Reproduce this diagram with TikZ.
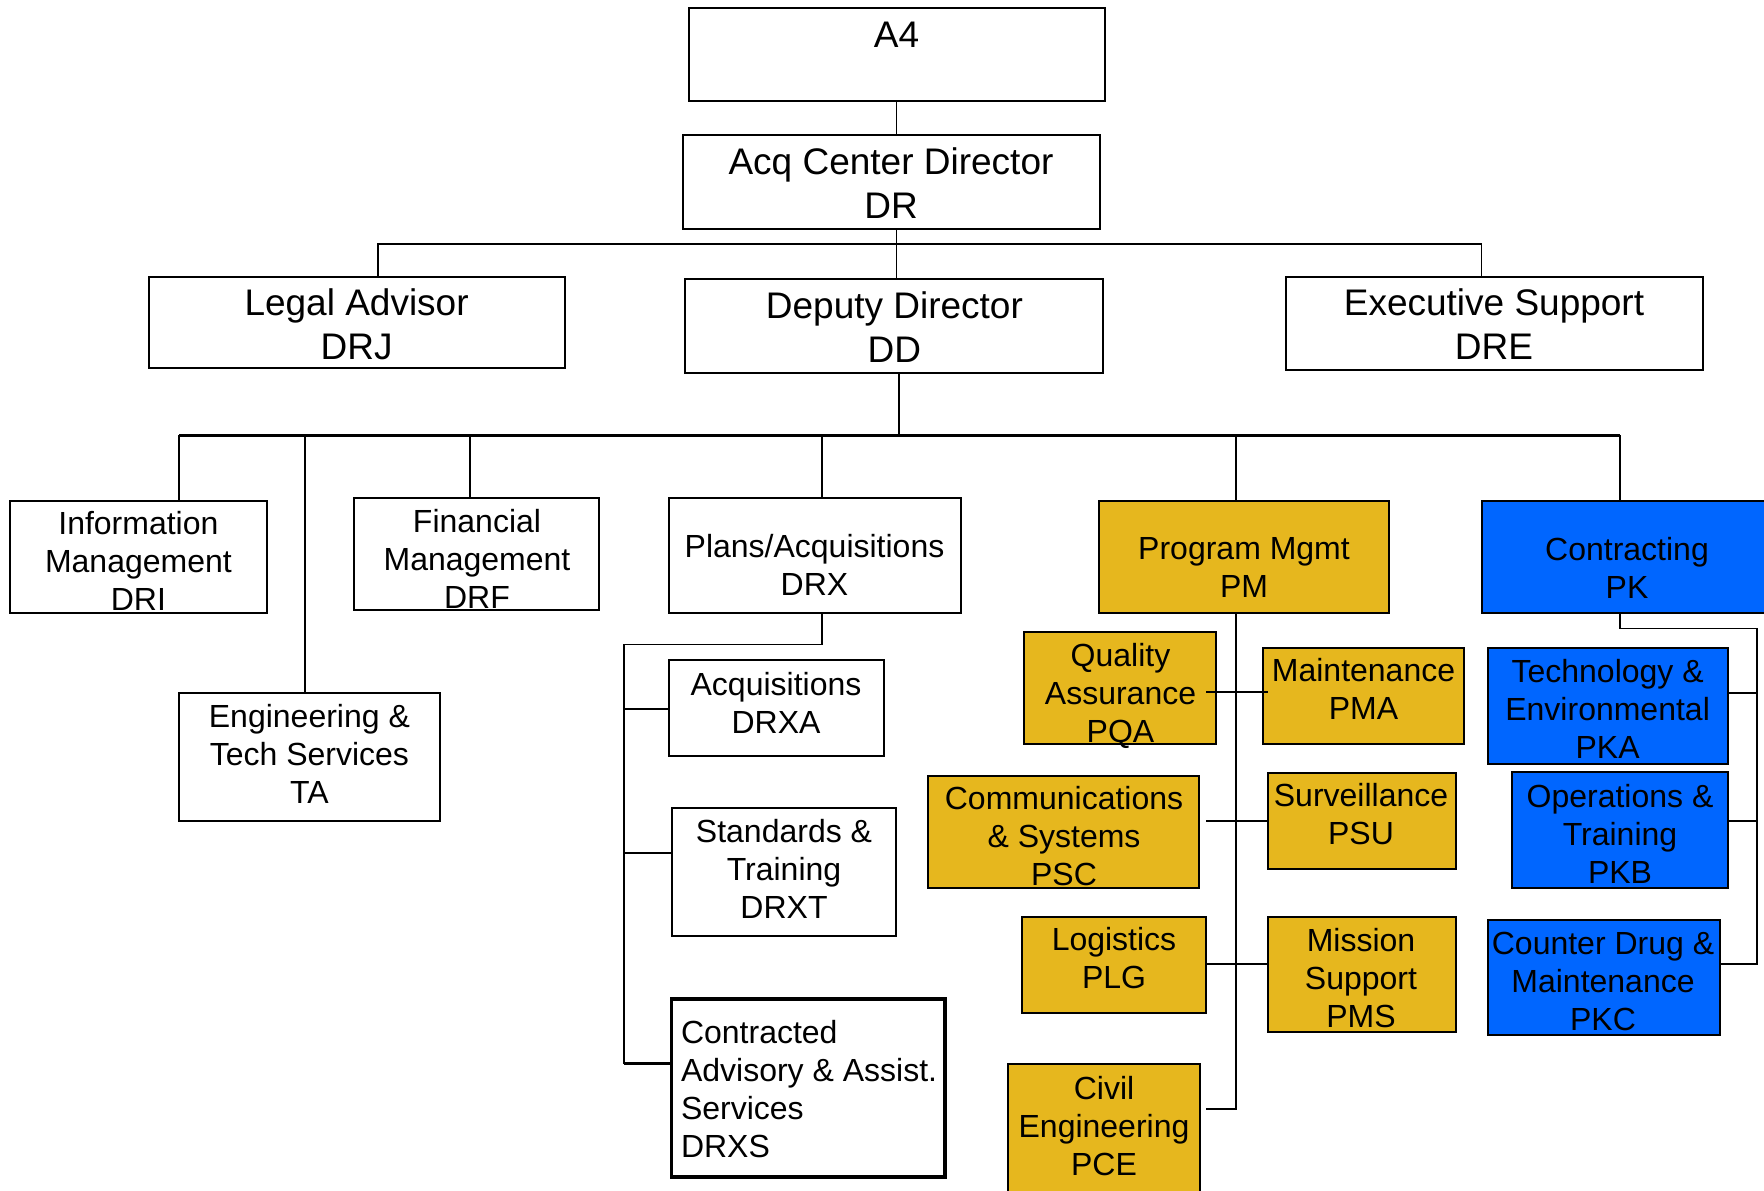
\documentclass[tikz,border=0pt]{standalone}
\usepackage{fontspec}
\setmainfont{Liberation Sans}
\definecolor{gold}{RGB}{230,183,30}
\definecolor{pkblue}{RGB}{0,102,255}
\tikzset{
 box/.style={draw=black, line width=1pt, inner sep=0pt, outer sep=0pt, fill=white},
 goldbox/.style={box, fill=gold},
 bluebox/.style={box, fill=pkblue},
 thickbox/.style={box, line width=1.8pt},
 bigtxt/.style={font=\fontsize{18.5}{22}\selectfont, align=center, inner sep=0pt, yshift=-1.5pt, execute at begin node={\strut}, execute at end node={\strut}},
 txt/.style={font=\fontsize{16}{19}\selectfont, align=center, inner sep=0pt, yshift=-1.5pt, execute at begin node={\strut}, execute at end node={\strut}},
 ltxt/.style={font=\fontsize{16}{19}\selectfont, align=left, inner sep=0pt, anchor=west, yshift=-1.5pt, execute at begin node={\strut}, execute at end node={\strut}},
 conn/.style={line width=0.8pt},
 busline/.style={line width=1.5pt},
 thickconn/.style={line width=1.8pt},
}
\newcommand\obox[6]{\node[#1, minimum width={(#5-#3)*0.5pt}, minimum height={(#6-#4)*0.5pt}] (#2) at ({(#3+#5)/2},{(#4+#6)/2}) {};}
\begin{document}
\begin{tikzpicture}[x=0.5pt, y=-0.5pt]
\useasboundingbox (0,0) rectangle (1764,1190);
\clip (0,0) rectangle (1764,1190);
\fill[white] (0,0) rectangle (1764,1190);

% boxes
\obox{box}{a4}{688.5}{8}{1104.75}{101}
\obox{box}{dr}{683}{135}{1100}{228.5}
\obox{box}{drj}{148.5}{277}{564.75}{368}
\obox{box}{dd}{685}{279}{1102.5}{372.5}
\obox{box}{dre}{1286}{277}{1703}{370}
\obox{box}{dri}{10}{500.6}{266.6}{613}
\obox{box}{ta}{179}{693}{440}{821}
\obox{box}{drf}{354}{498}{598.5}{610}
\obox{box}{drx}{669}{498}{961}{613}
\obox{goldbox}{pm}{1099}{500.6}{1389}{613}
\obox{bluebox}{pk}{1481.6}{500.6}{1775}{613}
\obox{box}{drxa}{669}{660}{884}{756}
\obox{box}{drxt}{671.6}{808}{895.5}{936}
\obox{thickbox}{drxs}{671.6}{999}{945}{1177}
\obox{goldbox}{pqa}{1024}{632}{1216}{744}
\obox{goldbox}{pma}{1263}{648}{1464}{744}
\obox{goldbox}{psc}{928}{776}{1199}{888}
\obox{goldbox}{psu}{1268}{773}{1456}{868.5}
\obox{goldbox}{plg}{1021.5}{917}{1206}{1012.5}
\obox{goldbox}{pms}{1268}{917}{1456}{1032}
\obox{goldbox}{pce}{1008}{1064}{1200}{1200}
\obox{bluebox}{pka}{1488}{648}{1728}{764}
\obox{bluebox}{pkb}{1512}{772}{1728}{888}
\obox{bluebox}{pkc}{1488}{920}{1720}{1035}

% coordinates
\coordinate (b1) at (896.6,244);
\coordinate (bL) at (378,244);
\coordinate (bR) at (1481.6,244);
\coordinate (b2) at (899,435);
\coordinate (b2L) at (179,435);
\coordinate (b2R) at (1620,435);
\coordinate (xTA) at (305,435);
\coordinate (xDRF) at (470,435);
\coordinate (xDRX) at (822,435);
\coordinate (xPM) at (1236,435);
\coordinate (rx1) at (822,644.6);
\coordinate (rx2) at (624,644.6);
\coordinate (rxA) at (624,709);
\coordinate (rxT) at (624,853);
\coordinate (rxS) at (624,1063.6);
\coordinate (pmE) at (1236,1109);
\coordinate (pmL) at (1206,1109);
\coordinate (pk1) at (1620,628.6);
\coordinate (pk2) at (1757,628.6);
\coordinate (pk3) at (1757,964);
\coordinate (pkA) at (1757,693);
\coordinate (pkB) at (1757,821);

% connectors
\draw[conn] (a4.south -| b1) -- (dr.north -| b1);
\draw[conn] (dr.south -| b1) -- (b1);
\draw[conn] (bL |- drj.north) -- (bL) -- (bR) -- (bR |- dre.north);
\draw[conn] (b1) -- (dd.north -| b1);
\draw[conn] (dd.south -| b2) -- (b2);
\draw[busline] (b2L) -- (b2R);
\draw[conn] (b2L) -- (b2L |- dri.north);
\draw[conn] (xTA) -- (xTA |- ta.north);
\draw[conn] (xDRF) -- (xDRF |- drf.north);
\draw[conn] (xDRX) -- (xDRX |- drx.north);
\draw[conn] (xPM) -- (xPM |- pm.north);
\draw[conn] (b2R) -- (b2R |- pk.north);
\draw[conn] (drx.south -| rx1) -- (rx1) -- (rx2) -- (rxS);
\draw[conn] (rxA) -- (rxA -| drxa.west);
\draw[conn] (rxT) -- (rxT -| drxt.west);
\draw[thickconn] (rxS) -- (rxS -| drxs.west);
\draw[conn] (pm.south -| pmE) -- (pmE) -- (pmL);
\draw[conn] (1206,692) -- (1268,692);
\draw[conn] (1206,821) -- (1268,821);
\draw[conn] (1206,964) -- (1268,964);
\draw[conn] (pk.south -| pk1) -- (pk1) -- (pk2) -- (pk3) -- (pk3 -| pkc.east);
\draw[conn] (pkA) -- (pkA -| pka.east);
\draw[conn] (pkB) -- (pkB -| pkb.east);

% texts
\node[bigtxt] (ta4) at (896.6,35.6) {A4};
\node[bigtxt] (tdr) at (891,186.3) {Acq Center Director\\DR};
\node[bigtxt] (tdrj) at (356.6,328) {Legal Advisor\\DRJ};
\node[bigtxt] (tdd) at (894.4,330.7) {Deputy Director\\DD};
\node[bigtxt] (tdre) at (1494,328) {Executive Support\\DRE};
\node[txt] (tdri) at (138.4,564) {Information\\Management\\DRI};
\node[txt] (tta) at (309.4,757) {Engineering \&\\Tech Services\\TA};
\node[txt] (tdrf) at (477,562) {Financial\\Management\\DRF};
\node[txt] (tdrx) at (814.5,568) {Plans/Acquisitions\\DRX};
\node[txt] (tpm) at (1244,570.5) {Program Mgmt\\PM};
\node[txt] (tpk) at (1627,570.5) {Contracting\\PK};
\node[txt] (tdrxa) at (776,705.5) {Acquisitions\\DRXA};
\node[txt] (tdrxt) at (784,872) {Standards \&\\Training\\DRXT};
\node[ltxt] (tdrxs) at (680.6,1092) {Contracted\\Advisory \& Assist.\\Services\\DRXS};
\node[txt] (tpqa) at (1120.5,696) {Quality\\Assurance\\PQA};
\node[txt] (tpma) at (1363.5,692) {Maintenance\\PMA};
\node[txt] (tpsc) at (1064,839) {Communications\\\& Systems\\PSC};
\node[txt] (tpsu) at (1361,817) {Surveillance\\PSU};
\node[txt] (tplg) at (1114,961) {Logistics\\PLG};
\node[txt] (tpms) at (1361,980.5) {Mission\\Support\\PMS};
\node[txt] (tpce) at (1104,1128.5) {Civil\\Engineering\\PCE};
\node[txt] (tpka) at (1607.6,711.5) {Technology \&\\Environmental\\PKA};
\node[txt] (tpkb) at (1620,836.5) {Operations \&\\Training\\PKB};
\node[txt] (tpkc) at (1603,984) {Counter Drug \&\\Maintenance\\PKC};
\end{tikzpicture}
\end{document}
